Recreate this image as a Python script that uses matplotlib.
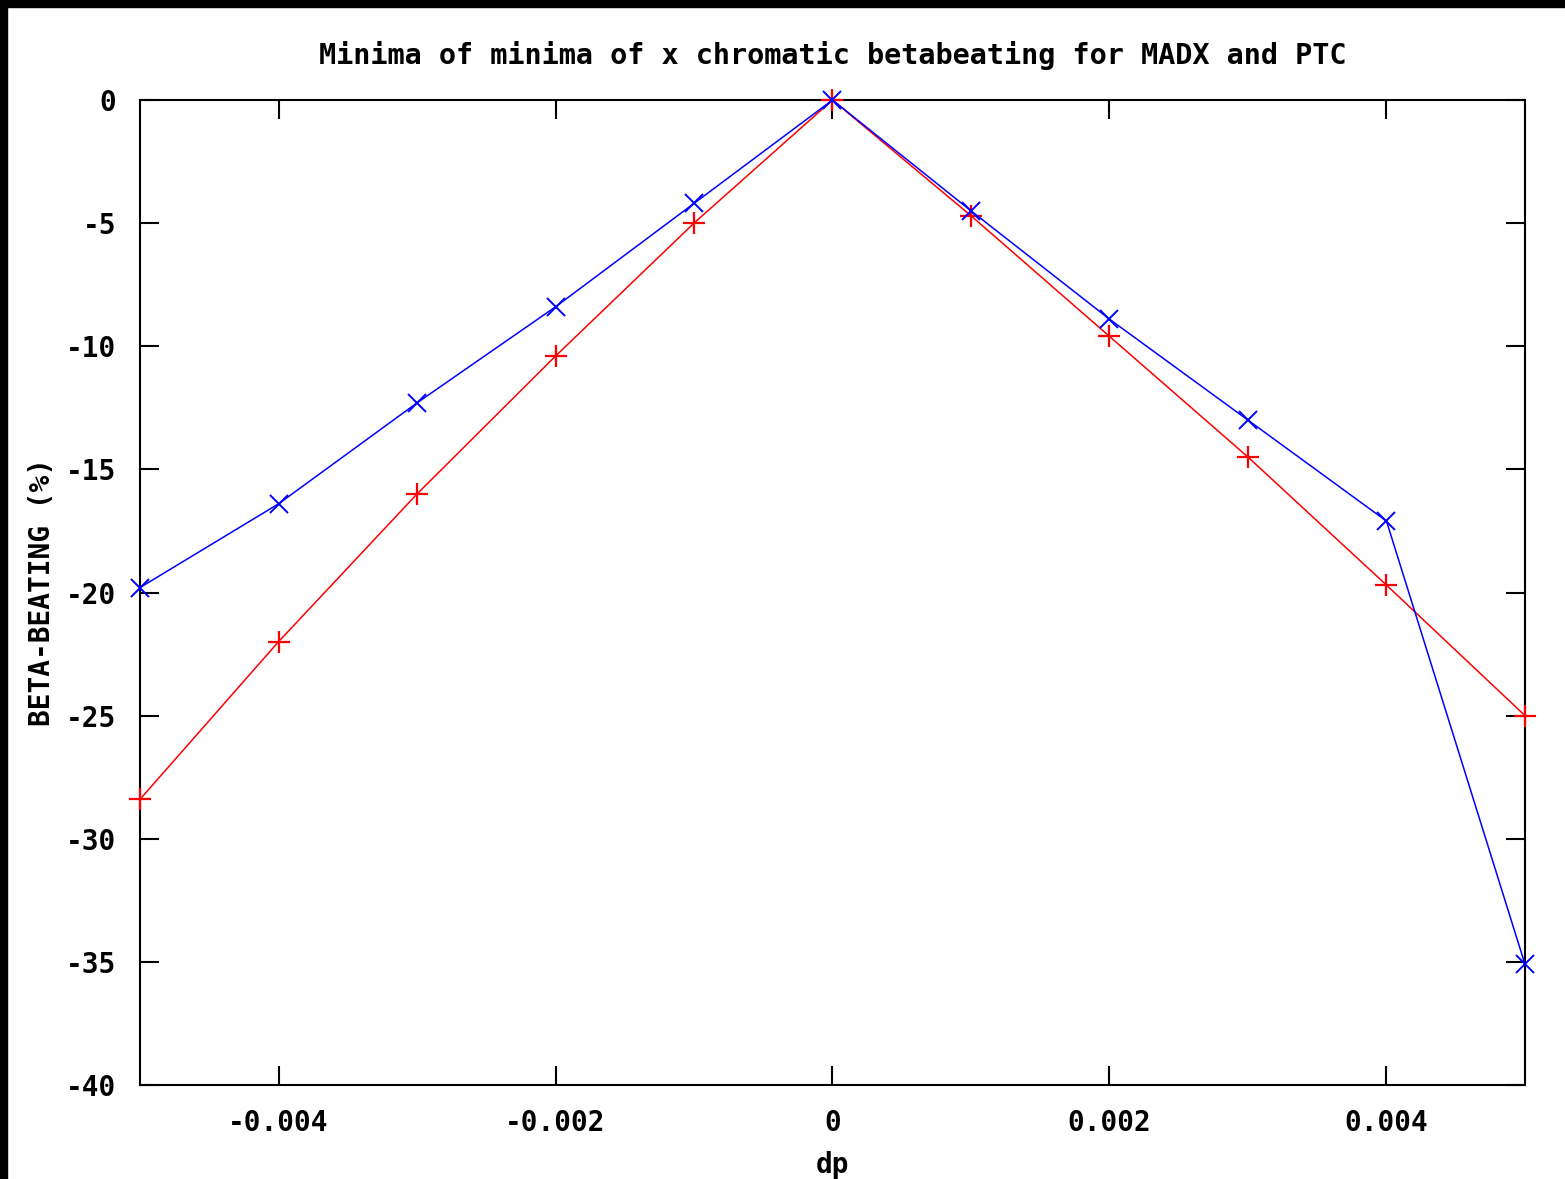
import matplotlib
matplotlib.use('Agg')
import matplotlib.pyplot as plt
from matplotlib.patches import Rectangle

# dados
dp = [-0.005, -0.004, -0.003, -0.002, -0.001, 0.0, 0.001, 0.002, 0.003, 0.004, 0.005]
madx = [-28.4, -22.0, -16.0, -10.4, -5.0, 0.0, -4.7, -9.6, -14.5, -19.7, -25.0]
ptc = [-19.8, -16.4, -12.3, -8.4, -4.2, 0.0, -4.5, -8.9, -13.0, -17.1, -35.1]

xticks = [-0.004, -0.002, 0, 0.002, 0.004]
xlabels = ['-0.004', '-0.002', '0', '0.002', '0.004']
yticks = [0, -5, -10, -15, -20, -25, -30, -35, -40]

plt.rcParams['font.family'] = ['DejaVu Sans Mono']
plt.rcParams['font.weight'] = 'bold'

fig = plt.figure(figsize=(15.65, 11.79), dpi=100)
ax = fig.add_axes([140 / 1565, 1 - 1085 / 1179, 1385 / 1565, 985 / 1179])

ax.plot(dp, madx, color='red', lw=1.1, marker='+', ms=16, mew=1.6, clip_on=False, zorder=3)
ax.plot(dp, ptc, color='blue', lw=1.1, marker='x', ms=13, mew=1.4, clip_on=False, zorder=4)

ax.set_xlim(-0.005, 0.005)
ax.set_ylim(-40, 0)
ax.set_xticks(xticks)
ax.set_xticklabels(xlabels)
ax.set_yticks(yticks)
ax.set_yticklabels([str(v) for v in yticks])
ax.tick_params(direction='in', length=14, width=1.5, top=True, right=True,
               labelsize=20, colors='black')
ax.tick_params(axis='y', pad=17)
ax.tick_params(axis='x', pad=17)
for s in ax.spines.values():
    s.set_linewidth(1.5)

ax.set_title('Minima of minima of x chromatic betabeating for MADX and PTC',
             fontsize=20.5, fontweight='bold', pad=26)
ax.set_xlabel('dp', fontsize=20, fontweight='bold')
ax.xaxis.set_label_coords(0.5, -0.067)
ax.set_ylabel('BETA-BEATING (%)', fontsize=20, fontweight='bold')
ax.yaxis.set_label_coords(-0.061, 0.5)

# faixas pretas na borda (topo e esquerda)
fig.patches.append(Rectangle((0, 1 - 7 / 1179), 1, 7 / 1179, transform=fig.transFigure,
                             color='black', zorder=10))
fig.patches.append(Rectangle((0, 0), 7 / 1565, 1, transform=fig.transFigure,
                             color='black', zorder=10))

fig.savefig('out.png', dpi=100)
